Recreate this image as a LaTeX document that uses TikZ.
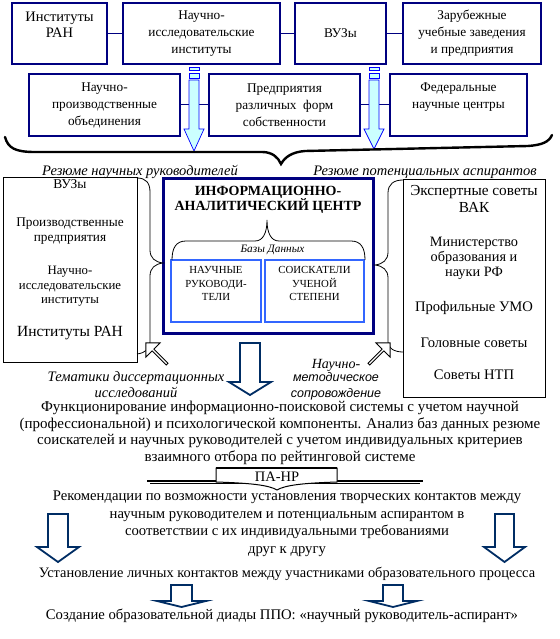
\documentclass[tikz,border=0pt]{standalone}
\usepackage{fontspec}
\setmainfont{Liberation Serif}
\setsansfont{Liberation Sans}
\usetikzlibrary{shapes.arrows}
\definecolor{navyb}{RGB}{0,0,128}
\definecolor{arrnavy}{RGB}{0,45,100}
\definecolor{dbblue}{RGB}{51,102,255}
\definecolor{cyanf}{RGB}{204,255,255}
\newcommand\fsz[2]{\fontsize{#1}{#2}\selectfont}
\begin{document}
\begin{tikzpicture}[x=1pt,y=-1pt,
 tbox/.style={draw=navyb, line width=1.2pt, inner sep=0pt},
 kbox/.style={draw=black, line width=0.9pt, inner sep=0pt},
 txt/.style={align=center, inner sep=0pt, font=\rmfamily\fsz{13.3}{17}},
 conn/.style={draw=navyb, line width=1pt},
 brace/.style={draw=black, line width=0.8pt},
 navyarrow/.style={draw=arrnavy, line width=1.8pt, fill=white, line join=miter},
 cyanarrow/.style={draw=blue, line width=0.7pt, fill=cyanf},
 hollow/.style={single arrow, draw=black, fill=white, line width=0.9pt, minimum width=20pt, single arrow head extend=3pt, minimum height=30pt, inner sep=0pt},
 itlab/.style={align=center, inner sep=0pt, font=\rmfamily\fsz{14.5}{16}\itshape},
]
\useasboundingbox (0,0) rectangle (559,639);
\fill[white] (0,0) rectangle (559,639);

% top row
\node[tbox, minimum width=95pt, minimum height=61pt] (T1) at (59.5,33.5) {};
\node[txt, font=\rmfamily\fsz{14.5}{16}] (T1t) at (59.5,25) {Институты\\РАН};
\node[tbox, minimum width=157pt, minimum height=61pt] (T2) at (201.5,33.5) {};
\node[txt] (T2t) at (201.5,33.5) {Научно-\\исследовательские\\институты};
\node[tbox, minimum width=91pt, minimum height=61pt] (T3) at (340.5,33.5) {};
\node[txt] (T3t) at (340.5,33.5) {ВУЗы};
\node[tbox, minimum width=138pt, minimum height=61pt] (T4) at (472,33.5) {};
\node[txt] (T4t) at (472,33.5) {Зарубежные\\учебные заведения\\и предприятия};
\draw[conn] (T1) -- (T2);
\draw[conn] (T2) -- (T3);
\draw[conn] (T3) -- (T4);

% second row
\node[tbox, minimum width=151pt, minimum height=62pt] (S1) at (104.5,105) {};
\node[txt] (S1t) at (104.5,105.5) {Научно-\\производственные\\объединения};
\node[tbox, minimum width=151pt, minimum height=62pt] (S2) at (284.5,105) {};
\node[txt] (S2t) at (284.5,105.5) {Предприятия\\различных\ \ форм\\собственности};
\node[tbox, minimum width=137pt, minimum height=62pt] (S3) at (458.5,105) {};
\node[txt] (S3t) at (458.5,97.5) {Федеральные\\научные центры};
\draw[conn] (S1) -- (S2);
\draw[conn] (S2) -- (S3);

% cyan arrows
\draw[cyanarrow] (189,67) rectangle (199,70);
\draw[cyanarrow] (189,73) rectangle (199,78);
\draw[cyanarrow] (189,80) -- (199,80) -- (199,129) -- (204,129) -- (194,151) -- (184,129) -- (189,129) -- cycle;
\draw[cyanarrow] (369,67) rectangle (379,70);
\draw[cyanarrow] (369,73) rectangle (379,78);
\draw[cyanarrow] (369,80) -- (379,80) -- (379,129) -- (384,129) -- (374,149) -- (364,129) -- (369,129) -- cycle;

% big brace
\draw[line width=2.4pt, line cap=round] (5,137) .. controls (8,148) and (15,152) .. (35,152) -- (262,152) .. controls (272,152) and (278,157) .. (281,164) .. controls (285,157) and (292,152) .. (305,151) -- (528,146) .. controls (542,145) and (549,142) .. (552,135);
\node[itlab] (labL) at (140,172) {Резюме научных руководителей};
\node[itlab] (labR) at (425,172) {Резюме потенциальных аспирантов};

% left box
\node[kbox, minimum width=134pt, minimum height=185pt] (L) at (70,269.5) {};
\node[txt, font=\rmfamily\fsz{13.5}{15}] (L1) at (70,184) {ВУЗы};
\node[txt, font=\rmfamily\fsz{13.3}{15}] (L2) at (70,231.5) {Производственные\\предприятия};
\node[txt, font=\rmfamily\fsz{12.8}{14.5}] (L3) at (70,286.5) {Научно-\\исследовательские\\институты};
\node[txt, font=\rmfamily\fsz{15.5}{17}] (L4) at (70,333) {Институты РАН};

% right box
\node[kbox, minimum width=142pt, minimum height=218pt] (R) at (474,288) {};
\node[txt, font=\rmfamily\fsz{15.3}{17}] (R1) at (474,198.5) {Экспертные советы\\ВАК};
\node[txt, font=\rmfamily\fsz{14.3}{15}] (R2) at (474,258) {Министерство\\образования и\\науки РФ};
\node[txt, font=\rmfamily\fsz{14.6}{17}] (R3) at (474,308) {Профильные УМО};
\node[txt, font=\rmfamily\fsz{14.6}{17}] (R4) at (474,343) {Головные советы};
\node[txt, font=\rmfamily\fsz{14.6}{17}] (R5) at (474,375) {Советы НТП};

% center box
\node[draw=navyb, line width=3pt, minimum width=210pt, minimum height=155pt] (C) at (268,255.5) {};
\node[txt, font=\rmfamily\fsz{14}{15}\bfseries] (Ct) at (268,199.5) {ИНФОРМАЦИОННО-\\АНАЛИТИЧЕСКИЙ ЦЕНТР};
\node[draw=dbblue, line width=1.4pt, minimum width=90pt, minimum height=62pt] (B1) at (216,291) {};
\node[draw=dbblue, line width=1.4pt, minimum width=99pt, minimum height=62pt] (B2) at (314.5,291) {};
\node[txt, font=\rmfamily\fsz{10.8}{13.5}] (B1t) at (216,283.5) {НАУЧНЫЕ\\РУКОВОДИ-\\ТЕЛИ};
\node[txt, font=\rmfamily\fsz{10.8}{13.5}] (B2t) at (314.5,283.5) {СОИСКАТЕЛИ\\УЧЕНОЙ\\СТЕПЕНИ};
\draw[brace] (172,260) .. controls (172,248) and (176,241) .. (186,241) -- (255,241) .. controls (263,241) and (267,233) .. (267,220) .. controls (267,233) and (271,241) .. (279,241) -- (351,241) .. controls (361,241) and (365,248) .. (365,260);
\node[txt, font=\rmfamily\fsz{11.3}{13}\itshape] (db) at (272.5,250) {Базы Данных};

% side braces
\draw[brace] (137,178) .. controls (146,178) and (150,183) .. (150,192) -- (150,250) .. controls (150,258) and (155,262) .. (163,263) .. controls (155,264) and (150,268) .. (150,276) -- (150,342) .. controls (150,349) and (145,353) .. (137,354);
\draw[brace] (403,180) .. controls (394,180) and (388,184) .. (388,193) -- (388,252) .. controls (388,260) and (383,264) .. (375,265) .. controls (383,266) and (388,270) .. (388,278) -- (388,342) .. controls (388,348) and (394,352) .. (403,352);

% hollow arrows
\node[hollow, rotate=135] (hL) at (157,354) {};
\node[hollow, rotate=45] (hR) at (379,354) {};

% center navy arrow
\draw[navyarrow] (240,343) -- (260,343) -- (260,382) -- (271,382) -- (250,395) -- (229,382) -- (240,382) -- cycle;

\node[itlab] (tem) at (136,385) {Тематики диссертационных\\исследований};
\node[txt, font=\rmfamily\fsz{14}{15}\itshape] (nm1) at (336,365) {Научно-};
\node[txt, font=\fsz{12.5}{16.5}\sffamily\itshape] (nm2) at (336,386.5) {методическое\\сопровождение};

% main text
\node[txt, font=\rmfamily\fsz{15}{16.7}] (main) at (280,433) {Функционирование информационно-поисковой системы с учетом научной\\(профессиональной) и психологической компоненты. Анализ баз данных резюме\\соискателей и научных руководителей с учетом индивидуальных критериев\\взаимного отбора по рейтинговой системе};

% PA-NR shape
\draw[line width=2pt] (147,481) -- (216,481);
\draw[line width=2pt] (337,481) -- (423,481);
\draw[line width=0.8pt] (150,483.5) -- (420,483.5);
\draw[line width=1pt, fill=white] (216,482) -- (216,468) -- (337,468) -- (337,482) .. controls (305,483) and (285,485) .. (277,490) .. controls (269,485) and (249,483) .. (216,482) -- cycle;
\draw[line width=2.2pt] (216,468) -- (337,468);
\node[txt, font=\rmfamily\fsz{14.5}{16}] (pa) at (277,477) {ПА-НР};

% recommendations
\node[txt, font=\rmfamily\fsz{14.7}{17.5}] (rec) at (287,524) {Рекомендации по возможности установления творческих контактов между\\научным руководителем и потенциальным аспирантом в\\соответствии с их индивидуальными требованиями\\друг к другу};
\draw[navyarrow] (48,514) -- (68,514) -- (68,547) -- (79,547) -- (58,562) -- (37,547) -- (48,547) -- cycle;
\draw[navyarrow] (495,514) -- (514,514) -- (514,547) -- (525,547) -- (504.5,562) -- (484,547) -- (495,547) -- cycle;

\node[txt, font=\rmfamily\fsz{14.4}{16}] (est) at (287,574) {Установление личных контактов между участниками образовательного процесса};
\draw[navyarrow] (171,585) -- (192,585) -- (192,601) -- (206,601) -- (181.5,607) -- (157,601) -- (171,601) -- cycle;
\draw[navyarrow] (383,585) -- (403,585) -- (403,601) -- (417,601) -- (393,607) -- (369,601) -- (383,601) -- cycle;
\node[txt, font=\rmfamily\fsz{14.7}{16}] (cre) at (282,616) {Создание образовательной диады ППО: «научный руководитель-аспирант»};
\end{tikzpicture}
\end{document}
